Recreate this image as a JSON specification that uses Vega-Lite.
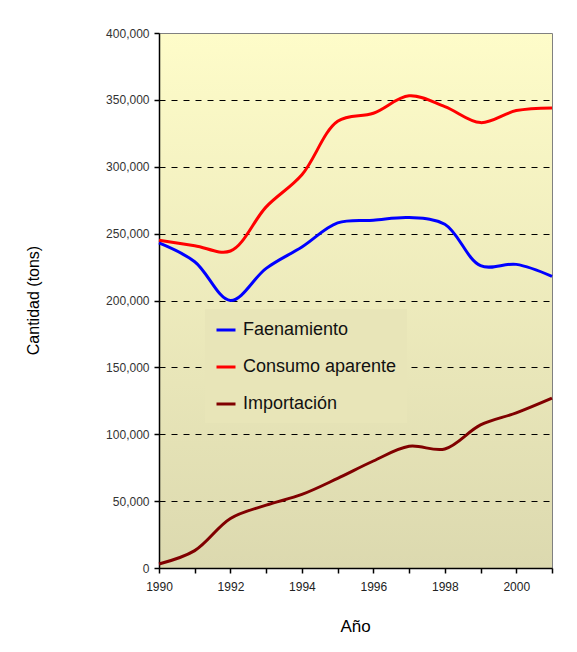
{
  "$schema": "https://vega.github.io/schema/vega-lite/v6.json",
  "autosize": "none",
  "width": 393,
  "height": 535,
  "padding": {"left": 159, "top": 33, "right": 25, "bottom": 84},
  "background": "white",
  "view": {
    "fill": {"gradient": "linear", "x1": 0, "y1": 0, "x2": 0, "y2": 1,
      "stops": [{"offset": 0, "color": "#FEFCC9"}, {"offset": 1, "color": "#DCD9AF"}]},
    "stroke": "#808080",
    "strokeWidth": 1
  },
  "config": {"font": "Liberation Sans"},
  "data": {"values": [
    {"year": 1990, "serie": "Faenamiento", "v": 243000},
    {"year": 1991, "serie": "Faenamiento", "v": 229000},
    {"year": 1992, "serie": "Faenamiento", "v": 200000},
    {"year": 1993, "serie": "Faenamiento", "v": 224000},
    {"year": 1994, "serie": "Faenamiento", "v": 240000},
    {"year": 1995, "serie": "Faenamiento", "v": 258000},
    {"year": 1996, "serie": "Faenamiento", "v": 260000},
    {"year": 1997, "serie": "Faenamiento", "v": 262000},
    {"year": 1998, "serie": "Faenamiento", "v": 257000},
    {"year": 1999, "serie": "Faenamiento", "v": 226000},
    {"year": 2000, "serie": "Faenamiento", "v": 227000},
    {"year": 2001, "serie": "Faenamiento", "v": 218000},
    {"year": 1990, "serie": "Consumo aparente", "v": 245000},
    {"year": 1991, "serie": "Consumo aparente", "v": 241000},
    {"year": 1992, "serie": "Consumo aparente", "v": 237000},
    {"year": 1993, "serie": "Consumo aparente", "v": 270000},
    {"year": 1994, "serie": "Consumo aparente", "v": 294000},
    {"year": 1995, "serie": "Consumo aparente", "v": 334000},
    {"year": 1996, "serie": "Consumo aparente", "v": 340000},
    {"year": 1997, "serie": "Consumo aparente", "v": 353000},
    {"year": 1998, "serie": "Consumo aparente", "v": 345000},
    {"year": 1999, "serie": "Consumo aparente", "v": 333000},
    {"year": 2000, "serie": "Consumo aparente", "v": 342000},
    {"year": 2001, "serie": "Consumo aparente", "v": 344000},
    {"year": 1990, "serie": "Importación", "v": 3000},
    {"year": 1991, "serie": "Importación", "v": 13000},
    {"year": 1992, "serie": "Importación", "v": 37000},
    {"year": 1993, "serie": "Importación", "v": 47000},
    {"year": 1994, "serie": "Importación", "v": 55000},
    {"year": 1995, "serie": "Importación", "v": 67000},
    {"year": 1996, "serie": "Importación", "v": 80000},
    {"year": 1997, "serie": "Importación", "v": 91000},
    {"year": 1998, "serie": "Importación", "v": 89000},
    {"year": 1999, "serie": "Importación", "v": 107000},
    {"year": 2000, "serie": "Importación", "v": 116000},
    {"year": 2001, "serie": "Importación", "v": 127000}
  ]},
  "mark": {"type": "line", "interpolate": "catmull-rom", "strokeWidth": 3},
  "encoding": {
    "x": {
      "field": "year", "type": "quantitative",
      "scale": {"domain": [1990, 2001], "nice": false, "zero": false},
      "axis": {
        "values": [1990, 1991, 1992, 1993, 1994, 1995, 1996, 1997, 1998, 1999, 2000, 2001],
        "labelExpr": "datum.value % 2 == 0 ? format(datum.value, 'd') : ''",
        "grid": false,
        "domainColor": "black", "domainWidth": 1.5,
        "tickColor": "black", "tickSize": 5, "tickWidth": 1.5,
        "labelFontSize": 12, "labelColor": "#222", "labelPadding": 8,
        "labelFlush": false,
        "title": "Año", "titleFontSize": 17, "titleFontWeight": "normal", "titleColor": "black",
        "titleX": 196, "titleY": 58, "titleAlign": "center", "titleBaseline": "middle"
      }
    },
    "y": {
      "field": "v", "type": "quantitative",
      "scale": {"domain": [0, 400000], "nice": false},
      "axis": {
        "values": [0, 50000, 100000, 150000, 200000, 250000, 300000, 350000, 400000],
        "format": ",d",
        "grid": true, "gridColor": "black", "gridDash": [6, 6], "gridWidth": 1,
        "gridOpacity": {"condition": {"test": "datum.value == 0 || datum.value == 400000", "value": 0}, "value": 1},
        "domainColor": "black", "domainWidth": 1.5,
        "tickColor": "black", "tickSize": 5, "tickWidth": 1.5,
        "labelFontSize": 12, "labelColor": "#333", "labelPadding": 5,
        "title": "Cantidad (tons)", "titleFontSize": 16, "titleFontWeight": "normal", "titleColor": "black",
        "titleAngle": 270, "titleX": -126, "titleY": 267, "titleAlign": "center", "titleBaseline": "middle"
      }
    },
    "color": {
      "field": "serie", "type": "nominal",
      "scale": {"domain": ["Faenamiento", "Consumo aparente", "Importación"], "range": ["#0000FF", "#FF0000", "#800000"]},
      "legend": {
        "title": null, "orient": "none", "legendX": 46, "legendY": 276,
        "fillColor": "#E8E5B8", "padding": 10,
        "symbolType": "stroke", "symbolSize": 361, "symbolStrokeWidth": 3,
        "labelFontSize": 18, "labelColor": "#111", "labelOffset": 6,
        "rowPadding": 17, "labelLimit": 300
      }
    }
  }
}
